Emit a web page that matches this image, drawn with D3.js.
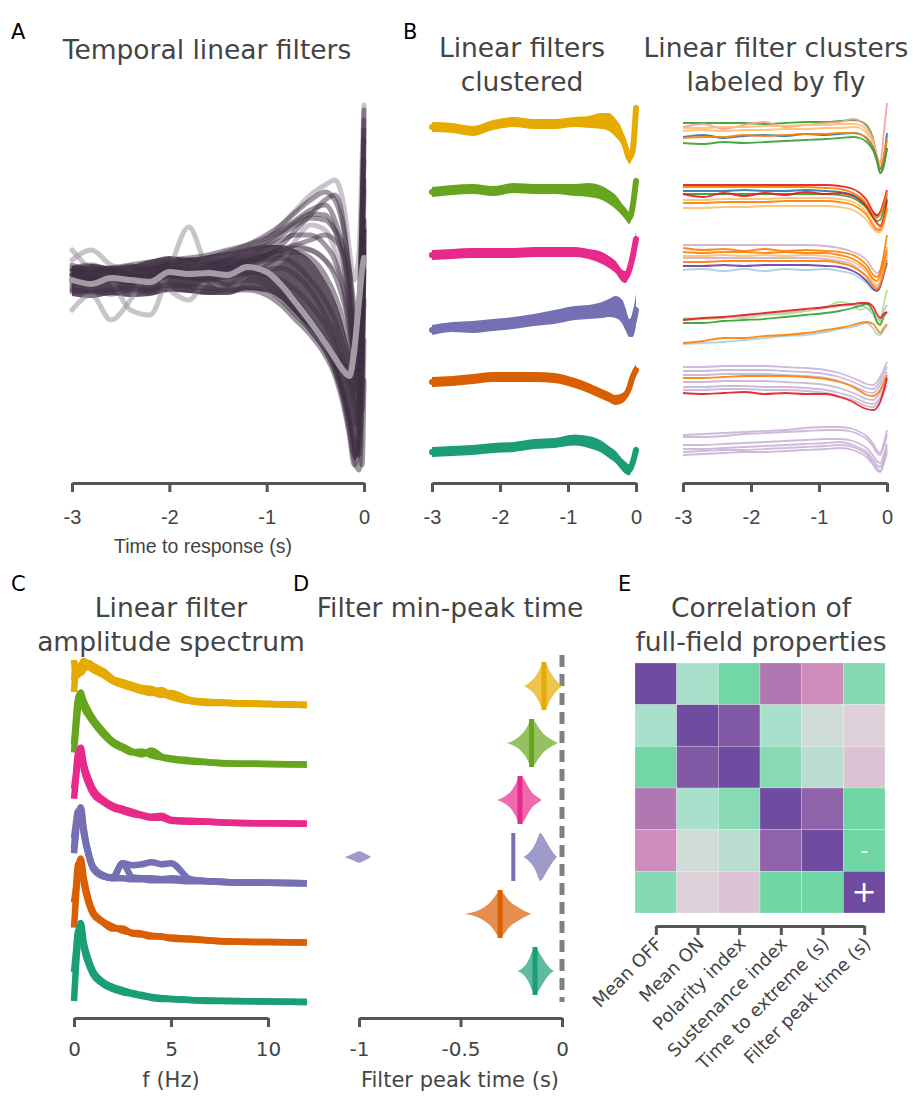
<!DOCTYPE html>
<html>
<head>
<meta charset="utf-8">
<script src="https://cdn.jsdelivr.net/npm/d3@7"></script>
<style>
  body { margin: 0; background: #fff; }
  svg { display: block; }
</style>
</head>
<body>
<svg id="fig" width="913" height="1102"></svg>
<script>
// ---------- data ----------
const clusterColors = ['#e6ab02', '#66a61e', '#e7298a', '#7570b3', '#d95f02', '#1b9e77'];
const flyColors = { lblue: '#a6cee3', blue: '#1f78b4', lgreen: '#b2df8a', green: '#33a02c', lred: '#fb9a99',
                    red: '#e31a1c', lorange: '#fdbf6f', orange: '#ff7f00', lav: '#cab2d6', purple: '#6a3d9a' };

// Panel A: temporal filters (time in s, arbitrary amplitude)
const timeA = [-3, -2.8, -2.6, -2.4, -2.2, -2, -1.8, -1.6, -1.4, -1.2, -1, -0.85, -0.7, -0.55, -0.4, -0.3, -0.2, -0.15, -0.1, -0.05, -0.02, 0];
const coreHigh = [0.14, 0.16, 0.14, 0.15, 0.2, 0.24, 0.22, 0.25, 0.28, 0.32, 0.35, 0.35, 0.3, 0.2, 0.0, -0.2, -0.5, -0.7, -0.9, -0.6, 0.2, 0.9];
const coreLow = [-0.16, -0.18, -0.15, -0.17, -0.16, -0.12, -0.13, -0.15, -0.15, -0.1, -0.12, -0.2, -0.35, -0.5, -0.7, -0.9, -1.25, -1.5, -1.8, -1.75, -1.0, -0.2];
const filtersDark = [
  [0.1, 0.12, 0.08, 0.1, 0.12, 0.15, 0.14, 0.16, 0.18, 0.2, 0.25, 0.3, 0.35, 0.4, 0.45, 0.4, 0.2, -0.1, -0.6, -0.2, 0.6, 1.2],
  [0.0, 0.02, 0.0, 0.03, 0.05, 0.06, 0.05, 0.08, 0.1, 0.1, 0.05, -0.05, -0.2, -0.4, -0.6, -0.8, -1.05, -1.25, -1.45, -1.2, -0.4, 0.3],
  [-0.1, -0.12, -0.1, -0.08, -0.1, -0.05, -0.06, -0.08, -0.1, -0.1, -0.15, -0.25, -0.4, -0.55, -0.75, -0.95, -1.3, -1.55, -1.85, -1.6, -0.8, 0.2],
  [0.05, 0.03, 0.06, 0.05, 0.02, 0.08, 0.1, 0.08, 0.12, 0.15, 0.2, 0.22, 0.15, 0.0, -0.2, -0.4, -0.7, -0.9, -1.1, -0.6, 0.4, 1.0],
  [-0.05, 0.0, -0.05, -0.02, 0.0, 0.03, 0.0, 0.02, 0.0, 0.05, 0.0, -0.12, -0.3, -0.5, -0.7, -0.9, -1.2, -1.4, -1.6, -1.75, -0.9, 0.1],
  [0.15, 0.1, 0.12, 0.15, 0.18, 0.2, 0.22, 0.25, 0.3, 0.35, 0.42, 0.5, 0.6, 0.7, 0.75, 0.6, 0.2, -0.2, -0.7, -0.4, 0.8, 1.6],
  [-0.08, -0.05, -0.1, -0.05, -0.08, -0.02, -0.05, 0.0, -0.05, 0.0, -0.05, -0.15, -0.3, -0.45, -0.65, -0.85, -1.2, -1.45, -1.8, -1.9, -1.2, 0.5],
  [0.08, 0.05, 0.1, 0.06, 0.05, 0.1, 0.08, 0.12, 0.15, 0.2, 0.25, 0.3, 0.32, 0.3, 0.2, 0.05, -0.25, -0.45, -0.7, -0.9, -0.3, 0.5],
  [0.0, -0.05, 0.02, 0.0, -0.02, 0.04, 0.02, 0.0, 0.04, 0.06, 0.1, 0.12, 0.05, -0.1, -0.35, -0.55, -0.85, -1.0, -1.2, -1.35, -0.8, -0.2],
  [0.12, 0.15, 0.1, 0.14, 0.1, 0.16, 0.2, 0.18, 0.22, 0.3, 0.35, 0.45, 0.55, 0.62, 0.6, 0.5, 0.3, 0.1, -0.3, -0.8, -0.5, 0.4],
  [-0.02, 0.0, 0.02, -0.03, 0.0, 0.05, 0.03, 0.02, 0.05, 0.08, 0.05, 0.0, -0.1, -0.25, -0.45, -0.65, -0.9, -1.05, -1.25, -1.5, -1.85, -1.0],
  [0.05, 0.08, 0.04, 0.06, 0.1, 0.12, 0.1, 0.14, 0.15, 0.18, 0.22, 0.26, 0.28, 0.22, 0.05, -0.15, -0.45, -0.65, -0.9, -1.1, -1.3, -0.6],
  [0.0, 0.03, 0.0, 0.02, 0.05, 0.08, 0.06, 0.1, 0.12, 0.18, 0.25, 0.35, 0.5, 0.65, 0.8, 0.85, 0.5, 0.0, -0.6, -0.9, 0.5, 1.7],
  [-0.12, -0.1, -0.14, -0.1, -0.12, -0.08, -0.1, -0.12, -0.1, -0.08, -0.1, -0.2, -0.35, -0.5, -0.7, -0.9, -1.25, -1.5, -1.75, -1.5, 0.0, 1.4],
  [0.1, 0.08, 0.12, 0.1, 0.14, 0.18, 0.2, 0.22, 0.28, 0.35, 0.45, 0.55, 0.68, 0.8, 0.88, 0.8, 0.45, 0.1, -0.4, -0.5, 0.6, 1.5],
  [0.05, 0.1, 0.06, 0.08, 0.1, 0.14, 0.16, 0.2, 0.25, 0.3, 0.38, 0.48, 0.58, 0.66, 0.65, 0.5, 0.1, -0.3, -0.8, -1.0, -0.2, 0.9],
  [0.02, 0.0, 0.04, 0.02, 0.06, 0.1, 0.12, 0.15, 0.2, 0.24, 0.32, 0.4, 0.45, 0.45, 0.35, 0.2, -0.15, -0.5, -1.0, -1.2, -0.5, 0.6]
];
const filtersLight = [
  [0.2, 0.3, 0.15, 0.1, 0.0, 0.05, 0.1, 0.2, 0.25, 0.3, 0.4, 0.55, 0.7, 0.85, 0.95, 1.0, 0.7, 0.3, 0.0, 0.3, 1.2, 1.75],
  [0.3, 0.1, 0.0, -0.3, -0.35, 0.1, 0.53, 0.1, 0.0, 0.1, 0.2, 0.3, 0.35, 0.3, 0.2, 0.1, -0.1, -0.3, -0.5, -0.2, 0.2, 0.5],
  [-0.3, -0.15, -0.4, -0.2, 0.1, -0.1, -0.2, 0.0, -0.1, 0.05, 0.1, 0.2, 0.4, 0.55, 0.5, 0.3, -0.1, -0.4, -0.7, -0.4, 0.1, 0.6]
];
const meanFilter = [0.0, -0.04, 0.02, 0.0, -0.02, 0.08, 0.06, 0.07, 0.05, 0.13, 0.08, -0.05, -0.23, -0.42, -0.63, -0.78, -0.92, -0.96, -0.7, -0.2, 0.1, 0.22];

// Panel B: cluster means and spreads
const timeB = [-3, -2.7, -2.4, -2.1, -1.8, -1.5, -1.2, -0.9, -0.7, -0.5, -0.4, -0.3, -0.2, -0.15, -0.1, -0.05, 0];
const clusterMeans = [
  [-0.2, -0.3, -0.6, 0.0, 0.3, 0.1, 0.1, 0.3, 0.3, 0.4, 0.3, -0.3, -1.3, -2.3, -3.3, -2.6, 1.7],
  [-0.2, 0.0, 0.1, -0.1, 0.2, 0.1, 0.1, 0.0, 0.0, -0.3, -0.7, -1.2, -2.0, -2.4, -2.8, -1.7, 0.9],
  [0.0, 0.1, 0.2, 0.2, 0.2, 0.3, 0.3, 0.3, 0.1, -0.3, -0.7, -1.2, -2.1, -2.2, -1.5, -0.2, 1.6],
  [-1.0, -0.7, -0.7, -0.5, -0.3, 0.0, 0.3, 0.7, 0.8, 1.0, 1.2, 1.3, 0.8, 0.0, -0.8, -0.5, 1.0],
  [0.3, 0.4, 0.6, 0.8, 0.8, 0.8, 0.7, 0.2, -0.3, -0.9, -1.2, -1.5, -1.3, -1.0, -0.3, 0.8, 1.5],
  [-0.2, -0.1, 0.0, 0.2, 0.3, 0.6, 0.7, 1.0, 0.8, 0.3, -0.2, -0.7, -1.5, -1.8, -2.0, -1.3, 0.0]
];
const clusterSpreads = [
  [0.5, 0.5, 0.5, 0.5, 0.5, 0.5, 0.5, 0.5, 0.6, 0.8, 0.9, 0.9, 0.8, 0.7, 0.6, 0.6, 0.6],
  [0.5, 0.5, 0.5, 0.5, 0.5, 0.5, 0.5, 0.6, 0.7, 0.7, 0.7, 0.7, 0.6, 0.6, 0.6, 0.6, 0.6],
  [0.5, 0.5, 0.5, 0.5, 0.5, 0.5, 0.5, 0.5, 0.5, 0.6, 0.6, 0.6, 0.6, 0.6, 0.6, 0.7, 0.7],
  [0.5, 0.5, 0.6, 0.6, 0.6, 0.6, 0.7, 0.7, 0.7, 0.8, 0.9, 1.1, 1.2, 1.1, 0.9, 1.2, 1.6],
  [0.5, 0.5, 0.5, 0.5, 0.5, 0.5, 0.5, 0.5, 0.5, 0.5, 0.5, 0.5, 0.5, 0.5, 0.5, 0.6, 0.6],
  [0.5, 0.5, 0.5, 0.5, 0.5, 0.5, 0.5, 0.55, 0.6, 0.6, 0.6, 0.6, 0.6, 0.6, 0.55, 0.5, 0.5]
];

// Panel B right: filters labeled by fly, one list per cluster
const flyLines1 = [
  ['green', [0.2, 0.2, 0.2, 0.2, 0.1, 0.2, 0.3, 0.3, 0.4, 0.5, 0.4, 0.0, -1.5, -3.2, -4.8, -4.0, -2.3]],
  ['lred', [-0.2, 0.1, -0.4, 0.0, 0.3, -0.2, 0.0, 0.2, 0.3, 0.6, 0.4, -0.2, -1.6, -3.0, -3.8, -1.0, 2.2]],
  ['lorange', [-0.3, -0.3, -0.2, -0.2, -0.1, -0.1, 0, 0, 0.1, 0.1, 0, -0.5, -1.8, -3.0, -4.0, -3.0, -1.0]],
  ['lorange', [-0.6, -0.5, -0.6, -0.5, -0.5, -0.4, -0.4, -0.3, -0.3, -0.2, -0.3, -0.8, -2.0, -3.2, -4.2, -3.5, -1.5]],
  ['blue', [-1.2, -1.0, -1.3, -1.1, -1.0, -1.1, -0.9, -1.0, -0.9, -0.8, -0.9, -1.3, -2.3, -3.3, -4.4, -3.5, -0.8]],
  ['orange', [-1.3, -1.2, -1.2, -1.0, -1.1, -1.0, -0.9, -0.9, -0.8, -0.8, -0.9, -1.4, -2.5, -3.5, -4.3, -3.3, -1.4]],
  ['green', [-1.8, -1.9, -1.7, -1.8, -1.7, -1.6, -1.5, -1.4, -1.3, -1.2, -1.3, -1.7, -2.6, -3.6, -4.8, -4.2, -2.3]]
];
const flyLines2 = [
  ['lorange', [-1.0, -1.0, -0.9, -0.9, -0.9, -0.8, -0.8, -0.8, -0.9, -1.2, -1.6, -2.2, -3.3, -3.8, -3.8, -3.0, -1.2]],
  ['lorange', [-1.8, -1.8, -1.7, -1.7, -1.6, -1.6, -1.6, -1.6, -1.7, -2.0, -2.4, -3.0, -3.9, -4.2, -4.2, -3.5, -2.0]],
  ['green', [-0.4, -0.4, -0.4, -0.4, -0.4, -0.4, -0.4, -0.4, -0.5, -0.8, -1.2, -1.8, -2.8, -3.1, -3.0, -2.0, -0.8]],
  ['blue', [-0.1, -0.1, -0.1, 0.0, -0.1, -0.1, 0.0, -0.1, -0.2, -0.5, -0.9, -1.5, -2.4, -2.6, -2.3, -1.5, -0.5]],
  ['red', [0.5, 0.5, 0.5, 0.5, 0.5, 0.5, 0.5, 0.5, 0.4, 0.1, -0.3, -1.0, -2.2, -2.5, -2.2, -1.2, 0.0]],
  ['orange', [0.3, 0.3, 0.3, 0.3, 0.3, 0.3, 0.3, 0.2, 0.1, -0.3, -0.7, -1.4, -2.5, -2.8, -2.4, -1.5, -0.3]],
  ['red', [-0.4, -0.7, -0.3, -0.6, -0.3, -0.5, -0.2, -0.4, -0.3, -0.6, -1.0, -1.7, -2.8, -3.3, -3.6, -2.8, -1.0]],
  ['orange', [-1.3, -1.3, -1.2, -1.2, -1.2, -1.1, -1.1, -1.1, -1.2, -1.5, -1.9, -2.5, -3.6, -4.0, -4.0, -3.2, -1.8]]
];
const flyLines3 = [
  ['lav', [1.0, 1.0, 1.0, 1.0, 1.0, 1.0, 1.0, 0.9, 0.7, 0.3, 0.0, -0.5, -1.5, -1.8, -1.5, -0.5, 0.8]],
  ['lav', [-0.3, -0.3, -0.3, -0.3, -0.3, -0.3, -0.3, -0.4, -0.6, -1.0, -1.5, -2.1, -3.0, -3.2, -2.6, -1.4, 0]],
  ['lblue', [-1.5, -1.4, -1.6, -1.4, -1.6, -1.4, -1.5, -1.4, -1.6, -1.9, -2.3, -2.8, -3.5, -3.4, -2.8, -1.5, -0.2]],
  ['purple', [-1.1, -1.1, -1.0, -1.1, -1.0, -1.0, -1.0, -1.1, -1.2, -1.6, -2.0, -2.6, -3.4, -3.6, -3.2, -2.0, -0.8]],
  ['lorange', [-0.1, -0.1, 0, -0.1, 0, -0.1, 0, -0.1, -0.3, -0.7, -1.1, -1.7, -2.7, -3.0, -2.5, -1.2, 0.2]],
  ['orange', [0.7, 0.5, 0.6, 0.4, 0.6, 0.4, 0.5, 0.4, 0.3, 0.0, -0.4, -1.0, -2.0, -2.2, -1.6, 0.0, 2.0]],
  ['orange', [0.3, 0.2, 0.3, 0.3, 0.2, 0.3, 0.2, 0.2, 0.0, -0.4, -0.8, -1.4, -2.4, -2.6, -2.0, -0.8, 0.5]],
  ['orange', [-0.7, -0.7, -0.6, -0.6, -0.6, -0.6, -0.6, -0.6, -0.8, -1.2, -1.6, -2.2, -3.1, -3.4, -3.0, -1.8, -0.5]]
];
const flyLines4 = [
  ['lav', [0, 0.1, 0.2, 0.4, 0.6, 0.7, 0.9, 1.2, 1.4, 1.5, 1.5, 1.2, 0.5, 0.0, 0.0, 0.8, 1.5]],
  ['lgreen', [0.2, 0.1, 0.3, 0.2, 0.5, 0.6, 0.9, 1.3, 1.8, 1.5, 1.0, 1.2, 0.8, 0.2, -0.3, 1.5, 3.0]],
  ['green', [-0.3, -0.3, -0.1, 0.0, 0.1, 0.3, 0.5, 0.7, 0.9, 1.2, 1.4, 1.6, 0.8, -0.2, -0.5, 0.3, 0.8]],
  ['red', [0, 0.2, 0.3, 0.5, 0.7, 0.9, 1.1, 1.3, 1.5, 1.6, 1.7, 1.7, 1.3, 0.6, 0.2, 0.6, 0.8]],
  ['lblue', [-2.4, -2.3, -2.2, -2.0, -1.8, -1.6, -1.5, -1.2, -0.9, -0.7, -0.5, -0.3, -0.9, -1.4, -1.5, -1.0, -0.5]],
  ['orange', [-2.3, -2.1, -1.8, -1.8, -1.6, -1.5, -1.3, -1.0, -0.8, -0.5, -0.3, -0.2, -0.4, -0.9, -1.3, -0.8, -0.4]]
];
const flyLines5 = [
  ['lav', [1.8, 1.8, 1.9, 1.9, 1.9, 1.8, 1.7, 1.5, 1.2, 0.7, 0.4, 0.1, 0.0, 0.3, 0.8, 1.5, 2.3]],
  ['lav', [1.4, 1.4, 1.5, 1.5, 1.5, 1.4, 1.3, 1.1, 0.8, 0.3, 0.0, -0.3, -0.4, -0.1, 0.4, 1.1, 1.8]],
  ['lav', [1.0, 1.0, 1.1, 1.1, 1.1, 1.0, 0.9, 0.7, 0.4, -0.1, -0.4, -0.7, -0.8, -0.5, 0.0, 0.6, 1.3]],
  ['lav', [0.3, 0.3, 0.4, 0.4, 0.4, 0.3, 0.2, 0.0, -0.3, -0.8, -1.1, -1.4, -1.5, -1.2, -0.7, 0.0, 0.8]],
  ['lav', [-0.2, -0.2, -0.1, -0.1, -0.2, -0.2, -0.3, -0.5, -0.8, -1.2, -1.5, -1.8, -1.9, -1.7, -1.2, -0.4, 0.5]],
  ['lav', [-0.5, -0.5, -0.4, -0.4, -0.5, -0.5, -0.6, -0.8, -1.1, -1.5, -1.8, -2.1, -2.2, -2.0, -1.6, -0.9, 0.0]],
  ['orange', [0.7, 0.7, 0.8, 0.9, 0.9, 0.9, 0.8, 0.6, 0.3, -0.2, -0.6, -1.0, -1.1, -0.9, -0.5, 0.2, 1.0]],
  ['red', [-0.8, -0.9, -0.8, -0.7, -0.9, -0.8, -0.9, -0.9, -1.2, -1.7, -2.1, -2.4, -2.5, -2.3, -1.7, -0.6, 0.7]]
];
const flyLines6 = [
  ['lav', [1.5, 1.6, 1.7, 1.8, 1.9, 2.0, 2.2, 2.3, 2.3, 2.1, 1.8, 1.4, 0.6, 0.0, -0.3, 0.6, 2.0]],
  ['lav', [1.3, 1.3, 1.4, 1.6, 1.7, 1.8, 1.9, 2.0, 2.0, 1.8, 1.5, 1.1, 0.3, -0.3, -0.5, 0.3, 1.5]],
  ['lav', [0.5, 0.5, 0.6, 0.7, 0.8, 0.9, 1.0, 1.1, 1.1, 0.9, 0.6, 0.2, -0.6, -1.1, -1.3, -0.5, 0.6]],
  ['lav', [0.1, 0.1, 0.2, 0.3, 0.4, 0.5, 0.6, 0.7, 0.8, 0.5, 0.2, -0.2, -1.0, -1.5, -1.7, -0.9, 0.3]],
  ['lav', [-0.2, -0.1, 0.0, 0.0, 0.1, 0.2, 0.3, 0.4, 0.5, 0.3, 0.0, -0.4, -1.3, -1.8, -2.1, -1.3, 0.0]],
  ['lav', [-0.5, -0.4, -0.3, -0.2, -0.2, -0.1, 0.0, 0.1, 0.2, 0.0, -0.3, -0.7, -1.5, -2.0, -2.2, -1.4, -0.3]]
];

// Panel C: amplitude spectra
const freqC = [0, 0.1, 0.2, 0.35, 0.5, 0.75, 1, 1.5, 2, 2.5, 3, 3.5, 4, 4.5, 5, 6, 7, 8, 10, 12];
const specYellow = [
  [1.3, 3.2, 3.0, 3.6, 4.1, 4.2, 3.9, 3.4, 2.6, 2.3, 2.0, 1.7, 1.6, 1.2, 0.8, 0.4, 0.3, 0.2, 0.1, 0.0],
  [4.5, 3.0, 3.8, 3.2, 3.6, 3.8, 3.5, 3.0, 2.4, 2.0, 1.7, 1.4, 1.2, 1.5, 0.9, 0.4, 0.2, 0.2, 0.1, 0.0],
  [2.5, 4.0, 3.3, 3.9, 4.4, 4.0, 3.7, 3.1, 2.5, 2.1, 1.8, 1.5, 1.3, 1.0, 1.2, 0.5, 0.3, 0.2, 0.1, 0.0]
];
const specGreen = [
  [1.2, 3.5, 5.5, 7.0, 6.3, 5.3, 4.5, 3.3, 2.3, 1.8, 1.3, 1.0, 1.4, 0.8, 0.6, 0.4, 0.2, 0.1, 0.05, 0.0],
  [2.0, 4.5, 6.5, 7.2, 5.8, 4.9, 4.2, 3.0, 2.1, 1.6, 1.2, 1.3, 0.9, 0.7, 0.5, 0.3, 0.2, 0.1, 0.05, 0.0]
];
const specPink = [
  [2.5, 4.5, 6.5, 7.6, 6.0, 4.5, 3.4, 2.4, 1.8, 1.5, 1.2, 0.9, 0.7, 0.8, 0.4, 0.3, 0.2, 0.1, 0.05, 0.0],
  [3.5, 5.0, 7.0, 7.3, 5.5, 4.0, 3.0, 2.2, 1.6, 1.3, 1.0, 0.8, 0.6, 0.6, 0.3, 0.2, 0.2, 0.1, 0.05, 0.0]
];
const specPurple = [
  [3.5, 5.5, 6.5, 7.6, 5.5, 3.0, 1.6, 0.8, 0.5, 0.5, 0.4, 0.4, 0.3, 0.3, 0.3, 0.2, 0.2, 0.1, 0.05, 0.0],
  [4.5, 6.0, 7.2, 7.0, 5.0, 2.8, 1.4, 0.7, 0.5, 2.0, 1.8, 1.9, 2.1, 1.9, 2.0, 0.4, 0.2, 0.1, 0.05, 0.0],
  [3.0, 5.0, 6.8, 7.4, 5.2, 2.9, 1.5, 0.7, 0.6, 2.0, 0.6, 0.5, 0.5, 0.4, 0.5, 0.3, 0.2, 0.1, 0.05, 0.0]
];
const specOrange = [
  [1.5, 4.5, 7.0, 8.4, 6.5, 4.3, 3.0, 2.1, 1.6, 1.2, 1.0, 0.9, 0.7, 0.6, 0.5, 0.4, 0.2, 0.1, 0.05, 0.0],
  [4.0, 5.5, 7.8, 8.0, 6.0, 4.0, 2.8, 2.0, 1.4, 1.4, 0.9, 0.8, 0.6, 0.6, 0.4, 0.3, 0.2, 0.1, 0.05, 0.0]
];
const specTeal = [
  [0.1, 3.5, 6.0, 7.9, 6.0, 4.2, 3.0, 2.0, 1.5, 1.2, 0.9, 0.7, 0.5, 0.4, 0.3, 0.2, 0.15, 0.1, 0.05, 0.0],
  [3.0, 5.0, 7.0, 7.5, 5.5, 3.8, 2.7, 1.8, 1.3, 1.0, 0.8, 0.6, 0.4, 0.3, 0.3, 0.2, 0.1, 0.1, 0.05, 0.0]
];

// Panel D: peak-time distributions (time, relative density)
const violinTimes = [
  [-0.185, -0.16, -0.135, -0.115, -0.1, -0.089, -0.075, -0.06, -0.04, -0.02, 0.0],
  [-0.27, -0.23, -0.2, -0.175, -0.16, -0.15, -0.135, -0.115, -0.09, -0.05, -0.02],
  [-0.32, -0.28, -0.25, -0.23, -0.215, -0.205, -0.19, -0.17, -0.15, -0.12, -0.1],
  [-0.19, -0.16, -0.14, -0.125, -0.115, -0.108, -0.095, -0.08, -0.06, -0.04, -0.025],
  [-0.48, -0.42, -0.38, -0.35, -0.32, -0.305, -0.29, -0.26, -0.22, -0.18, -0.15],
  [-0.22, -0.19, -0.17, -0.155, -0.142, -0.133, -0.12, -0.1, -0.08, -0.06, -0.04]
];
const violinDensity = [
  [0, 0.15, 0.35, 0.62, 0.88, 1, 0.88, 0.62, 0.35, 0.15, 0],
  [0, 0.15, 0.35, 0.62, 0.88, 1, 0.9, 0.65, 0.38, 0.14, 0],
  [0, 0.16, 0.38, 0.65, 0.9, 1, 0.9, 0.6, 0.33, 0.12, 0],
  [0, 0.2, 0.42, 0.68, 0.9, 1, 0.9, 0.68, 0.4, 0.15, 0],
  [0, 0.12, 0.3, 0.52, 0.85, 1, 0.88, 0.55, 0.3, 0.1, 0],
  [0, 0.16, 0.38, 0.65, 0.9, 1, 0.88, 0.6, 0.33, 0.12, 0]
];
const outlierTimes = [-1.07, -1.03, -1.0, -0.97, -0.94];
const outlierDensity = [0, 0.14, 0.24, 0.14, 0];
const medianPeak = [-0.089, -0.15, -0.207, -0.24, -0.305, -0.133];

// Panel E: correlation matrix
const propLabels = ['Mean OFF', 'Mean ON', 'Polarity index', 'Sustenance index', 'Time to extreme (s)', 'Filter peak time (s)'];
const corr = [
  [1, -0.5, -0.95, 0.6, 0.42, -0.8],
  [-0.5, 1, 0.88, -0.5, -0.15, 0.05],
  [-0.95, 0.88, 1, -0.78, -0.35, 0.12],
  [0.6, -0.5, -0.78, 1, 0.8, -0.97],
  [0.42, -0.15, -0.35, 0.8, 1, -0.97],
  [-0.8, 0.05, 0.12, -0.97, -0.97, 1]
];

// ---------- drawing ----------
const svg = d3.select('#fig');
svg.append('rect').attr('width', 913).attr('height', 1102).attr('fill', '#fff');

const TITLE_FONT = 'DejaVu Sans';
const SANS = 'Liberation Sans';

function bottomAxis(scale, ticks, y, font, size, pad) {
  const ax = svg.append('g')
    .attr('transform', `translate(0,${y})`)
    .call(d3.axisBottom(scale).tickValues(ticks).tickSize(9).tickSizeOuter(0)
      .tickPadding(pad).tickFormat(d => String(d)));
  ax.select('.domain').attr('stroke', '#555').attr('stroke-width', 3);
  ax.selectAll('.tick line').attr('stroke', '#555').attr('stroke-width', 3);
  ax.selectAll('.tick text').attr('fill', '#444').attr('font-family', font).attr('font-size', size);
  return ax;
}

function title(lines, cx, y0) {
  lines.forEach((t, i) => {
    svg.append('text').attr('x', cx).attr('y', y0 + i * 34)
      .attr('text-anchor', 'middle').attr('font-family', TITLE_FONT)
      .attr('font-size', 26.5).attr('fill', '#444').text(t);
  });
}

function panelLetter(l, x, y) {
  svg.append('text').attr('x', x).attr('y', y).attr('font-family', TITLE_FONT)
    .attr('font-size', 21).attr('fill', '#000').text(l);
}

function axisLabel(t, cx, y, font, size) {
  svg.append('text').attr('x', cx).attr('y', y).attr('text-anchor', 'middle')
    .attr('font-family', font).attr('font-size', size).attr('fill', '#444').text(t);
}

// ----- Panel A -----
panelLetter('A', 11, 39);
title(['Temporal linear filters'], 207, 59);

const xA = d3.scaleLinear().domain([-3, 0]).range([72, 364]);
const yA = d3.scaleLinear().domain([-2, 1.8]).range([480, 100]);
const gA = svg.append('g');

const lineA = d3.line().curve(d3.curveMonotoneX).x((d, i) => xA(timeA[i])).y(d => yA(d));

gA.append('path')
  .datum(timeA.map((t, i) => i))
  .attr('d', d3.area().curve(d3.curveMonotoneX)
    .x(i => xA(timeA[i])).y0(i => yA(coreLow[i])).y1(i => yA(coreHigh[i])))
  .attr('fill', '#3e2d41').attr('opacity', 0.82);

gA.selectAll('path.light').data(filtersLight).enter().append('path')
  .attr('class', 'light').attr('d', lineA)
  .attr('fill', 'none').attr('stroke', '#9d94a0').attr('stroke-opacity', 0.55)
  .attr('stroke-width', 5).attr('stroke-linejoin', 'round').attr('stroke-linecap', 'round');

gA.selectAll('path.dark').data(filtersDark).enter().append('path')
  .attr('class', 'dark').attr('d', lineA)
  .attr('fill', 'none').attr('stroke', '#3e2d41').attr('stroke-opacity', 0.5)
  .attr('stroke-width', 5).attr('stroke-linejoin', 'round').attr('stroke-linecap', 'round');

gA.append('path').datum(meanFilter).attr('d', lineA)
  .attr('fill', 'none').attr('stroke', '#a8a1aa').attr('stroke-opacity', 0.95)
  .attr('stroke-width', 6).attr('stroke-linejoin', 'round').attr('stroke-linecap', 'round');

bottomAxis(xA, [-3, -2, -1, 0], 483, SANS, 20, 18);
axisLabel('Time to response (s)', 203, 553, SANS, 19.5);

// ----- Panel B -----
panelLetter('B', 403, 39);
title(['Linear filters', 'clustered'], 522, 57);
title(['Linear filter clusters', 'labeled by fly'], 776, 57);

const xBL = d3.scaleLinear().domain([-3, 0]).range([432, 636]);
const xBR = d3.scaleLinear().domain([-3, 0]).range([683, 887]);
const rowB = d3.scaleLinear().domain([0, 5]).range([125, 450]);
const ampB = d3.scaleLinear().domain([-5, 5]).range([50, -50]);

clusterMeans.forEach((m, c) => {
  const g = svg.append('g').attr('transform', `translate(0,${rowB(c)})`);
  const idx = timeB.map((t, i) => i);
  g.append('path').datum(idx)
    .attr('d', d3.area().curve(d3.curveMonotoneX)
      .x(i => xBL(timeB[i]))
      .y0(i => ampB(m[i] - clusterSpreads[c][i]))
      .y1(i => ampB(m[i] + clusterSpreads[c][i])))
    .attr('fill', clusterColors[c]);
  g.append('path').datum(m)
    .attr('d', d3.line().curve(d3.curveMonotoneX).x((d, i) => xBL(timeB[i])).y(d => ampB(d)))
    .attr('fill', 'none').attr('stroke', clusterColors[c]).attr('stroke-width', 6)
    .attr('stroke-linejoin', 'round').attr('stroke-linecap', 'round');
});

const flyGroups = [flyLines1, flyLines2, flyLines3, flyLines4, flyLines5, flyLines6];
const lineBR = d3.line().curve(d3.curveMonotoneX).x((d, i) => xBR(timeB[i])).y(d => ampB(d));
flyGroups.forEach((lines, c) => {
  const g = svg.append('g').attr('transform', `translate(0,${rowB(c)})`);
  g.selectAll('path').data(lines).enter().append('path')
    .attr('d', d => lineBR(d[1]))
    .attr('fill', 'none').attr('stroke', d => flyColors[d[0]])
    .attr('stroke-width', 1.8).attr('stroke-opacity', 0.9);
});

bottomAxis(xBL, [-3, -2, -1, 0], 483, SANS, 20, 18);
bottomAxis(xBR, [-3, -2, -1, 0], 483, SANS, 20, 18);

// ----- Panel C -----
panelLetter('C', 11, 591);
title(['Linear filter', 'amplitude spectrum'], 171, 617);

const xC = d3.scaleLinear().domain([0, 12]).range([74, 306.8]);
const rowC = d3.scaleLinear().domain([0, 5]).range([705, 1002]);
const ampC = d3.scaleLinear().domain([0, 10]).range([0, -100]);
const lineC = d3.line().curve(d3.curveMonotoneX).x((d, i) => xC(freqC[i])).y(d => ampC(d));
[specYellow, specGreen, specPink, specPurple, specOrange, specTeal].forEach((set, c) => {
  const g = svg.append('g').attr('transform', `translate(0,${rowC(c)})`);
  g.selectAll('path').data(set).enter().append('path')
    .attr('d', lineC).attr('fill', 'none').attr('stroke', clusterColors[c])
    .attr('stroke-width', 6.5).attr('stroke-linejoin', 'round').attr('stroke-linecap', 'butt');
});
bottomAxis(d3.scaleLinear().domain([0, 10]).range([74, 268]), [0, 5, 10], 1018, TITLE_FONT, 20, 15);
axisLabel('f (Hz)', 171, 1087, TITLE_FONT, 21);

// ----- Panel D -----
panelLetter('D', 293, 591);
title(['Filter min-peak time'], 450, 617);

const xD = d3.scaleLinear().domain([-1, 0]).range([359, 562]);
const rowD = d3.scaleLinear().domain([0, 5]).range([686, 971]);
const halfH = 24;

svg.append('line')
  .attr('x1', xD(0)).attr('x2', xD(0)).attr('y1', 655).attr('y2', 1002)
  .attr('stroke', '#808080').attr('stroke-width', 5).attr('stroke-dasharray', '12,7');

function violin(times, dens, cy, color) {
  const pts = times.map((t, i) => [t, dens[i]]);
  svg.append('path').datum(pts)
    .attr('d', d3.area().curve(d3.curveMonotoneX)
      .x(d => xD(d[0])).y0(d => cy - d[1] * halfH).y1(d => cy + d[1] * halfH))
    .attr('fill', color).attr('fill-opacity', 0.7);
}
violinTimes.forEach((ts, c) => {
  const cy = rowD(c);
  violin(ts, violinDensity[c], cy, clusterColors[c]);
  svg.append('line')
    .attr('x1', xD(medianPeak[c])).attr('x2', xD(medianPeak[c]))
    .attr('y1', cy - halfH).attr('y2', cy + halfH)
    .attr('stroke', clusterColors[c]).attr('stroke-width', c === 3 ? 4 : 5);
});
violin(outlierTimes, outlierDensity, rowD(3), clusterColors[3]);

bottomAxis(xD, [-1, -0.5, 0], 1018, TITLE_FONT, 20, 15);
axisLabel('Filter peak time (s)', 460, 1087, TITLE_FONT, 21);

// ----- Panel E -----
panelLetter('E', 618, 591);
title(['Correlation of', 'full-field properties'], 761, 617);

const xE = d3.scaleBand().domain(d3.range(6)).range([635, 885]);
const yE = d3.scaleBand().domain(d3.range(6)).range([663, 913]);
const colorE = d3.scaleLinear().domain([-1, -0.5, 0, 0.4, 1])
  .range(['#6dd5a2', '#a8e0cc', '#e0dadd', '#d08ebc', '#6f4c9f']);

const cells = [];
corr.forEach((row, r) => row.forEach((v, c) => cells.push({ r, c, v })));
svg.append('g').selectAll('rect').data(cells).enter().append('rect')
  .attr('x', d => xE(d.c)).attr('y', d => yE(d.r))
  .attr('width', xE.bandwidth()).attr('height', yE.bandwidth())
  .attr('fill', d => colorE(d.v))
  .attr('stroke', '#ffffff').attr('stroke-opacity', 0.35).attr('stroke-width', 0.6);

svg.append('text').attr('x', xE(5) + xE.bandwidth() / 2).attr('y', yE(4) + yE.bandwidth() / 2 + 7)
  .attr('text-anchor', 'middle').attr('font-family', TITLE_FONT).attr('font-size', 22)
  .attr('fill', '#fff').text('-');
svg.append('text').attr('x', xE(5) + xE.bandwidth() / 2).attr('y', yE(5) + yE.bandwidth() / 2 + 10)
  .attr('text-anchor', 'middle').attr('font-family', TITLE_FONT).attr('font-size', 30)
  .attr('fill', '#fff').text('+');

const xEAxis = d3.scalePoint().domain(propLabels).range([xE(0) + xE.bandwidth() / 2, xE(5) + xE.bandwidth() / 2]);
const axE = svg.append('g').attr('transform', 'translate(0,926)')
  .call(d3.axisBottom(xEAxis).tickSize(9).tickSizeOuter(0));
axE.select('.domain').attr('stroke', '#555').attr('stroke-width', 3);
axE.selectAll('.tick line').attr('stroke', '#555').attr('stroke-width', 3);
axE.selectAll('.tick text')
  .attr('fill', '#444').attr('font-family', TITLE_FONT).attr('font-size', 18)
  .attr('text-anchor', 'end').attr('dy', null).attr('y', 0)
  .attr('transform', 'translate(7,19) rotate(-45)');
</script>
</body>
</html>
